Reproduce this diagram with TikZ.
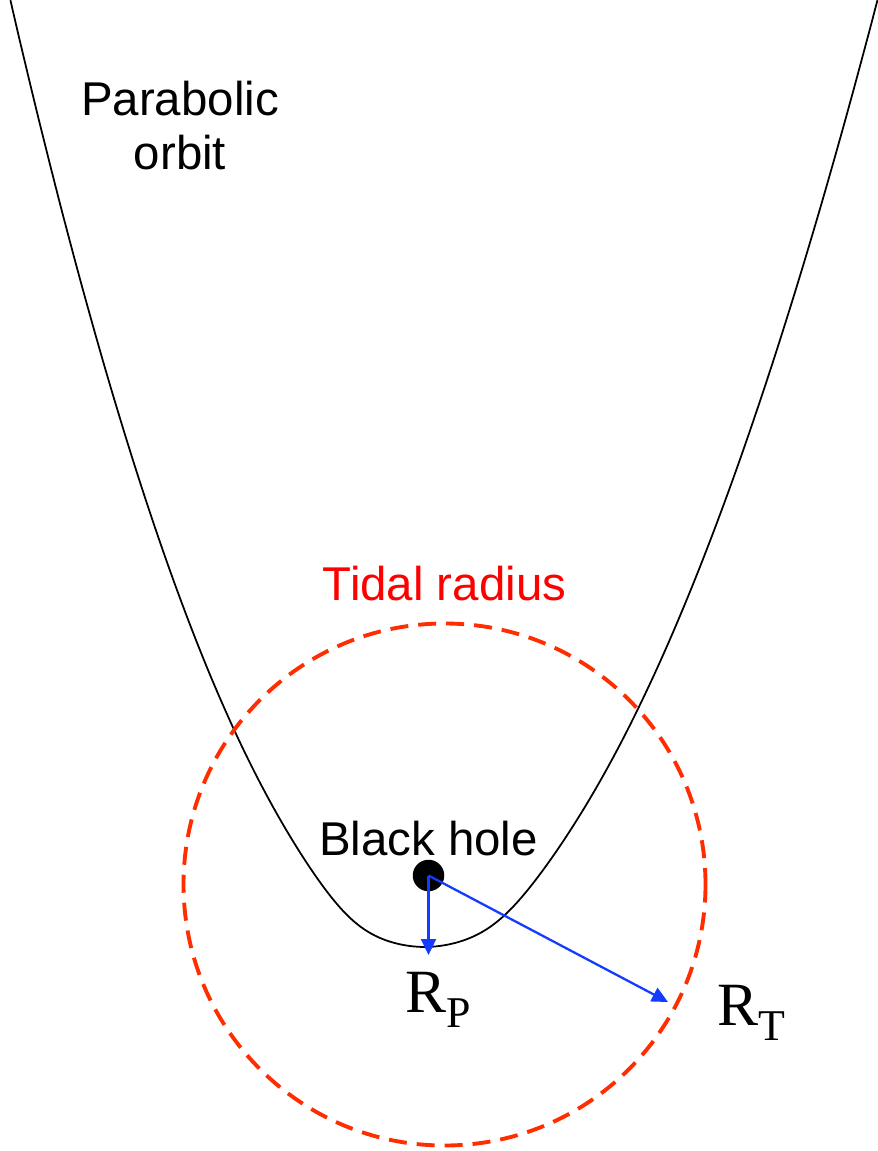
\documentclass[tikz,border=0pt]{standalone}
\usepackage{fontspec}
\setmainfont{Liberation Sans}
\newfontfamily\timesfont{Liberation Serif}
\usetikzlibrary{positioning,arrows.meta}
\definecolor{radblue}{RGB}{20,60,255}
\definecolor{tidalred}{RGB}{255,45,0}
\tikzset{
  sanslbl/.style={font=\fontsize{27}{31}\selectfont, inner sep=0pt},
  radlbl/.style={font=\timesfont\fontsize{35}{35}\selectfont, inner sep=0pt, anchor=base west},
  radarrow/.style={radblue, line width=1.3pt, -{Triangle[length=0.32cm,width=0.3cm]}},
}
\newcommand{\radsub}[1]{\raisebox{-9pt}{\fontsize{25}{25}\selectfont #1}}

\begin{document}
\begin{tikzpicture}[x=0.02cm,y=-0.02cm]
\useasboundingbox (0,0) rectangle (877,1151);
% orbit: two arms meeting at the pericentre, flattened bottom
\draw[line width=1pt] plot[domain=-30.77:30.77, samples=121, smooth]
  ({425+(\x<0 ? -11.2 : 10.73)*(abs(\x)+0.001)^(\x<0 ? 1.054 : 1.092)*(1+0.35*exp(-\x*\x/30))}, {947-\x*\x});
% tidal radius circle
\draw[tidalred, line width=2.2pt, dash pattern=on 0.36cm off 0.2cm]
  (444.5,884.5) circle[radius=261];
\node[sanslbl, align=center, anchor=base] (orbit) at (180,170) {Parabolic\\orbit};
\node[sanslbl, red, anchor=base] (tidal) at (444.5,600) {Tidal radius};
\node[sanslbl, anchor=base] (bhlbl) at (428.5,855) {Black hole};
\node[circle, fill=black, minimum size=0.63cm, inner sep=0pt] (bh) at (428.5,875.5) {};
\coordinate (rp) at (428.5,955);
\coordinate (rt) at (668,1002);
\draw[radarrow] (bh.center) -- (rp);
\draw[radarrow] (bh.center) -- (rt);
\node[radlbl] (rplbl) at (405,1012) {R\radsub{P}};
\node[radlbl] (rtlbl) at (717,1025) {R\radsub{T}};
\end{tikzpicture}
\end{document}
